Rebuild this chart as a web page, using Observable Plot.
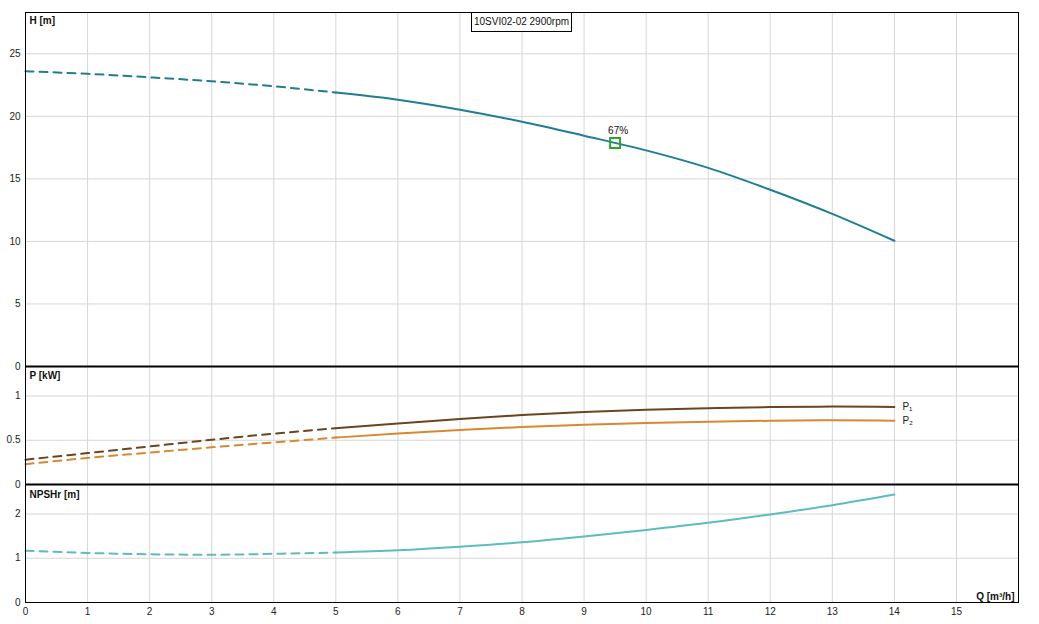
<!DOCTYPE html>
<html><head><meta charset="utf-8">
<script src="https://cdn.jsdelivr.net/npm/d3@7"></script>
<script src="https://cdn.jsdelivr.net/npm/@observablehq/plot@0.6"></script>
<style>
body{margin:0;background:#fff;font-family:"Liberation Sans",Arial,sans-serif;}
#wrap{position:relative;width:1039px;height:624px;}
#wrap svg{position:absolute;left:0;overflow:visible;background:transparent;}
#title{position:absolute;left:471px;top:12px;width:99px;height:18px;border:1px solid #000;background:#fff;font:10px "Liberation Sans",Arial,sans-serif;line-height:18px;text-align:center;color:#111;z-index:5;box-sizing:content-box;}
</style></head><body>
<div id="wrap"><div id="title">10SVI02-02 2900rpm</div></div>
<script>
// ---- data ----
const flow = [0,1,2,3,4,5,6,7,8,9,10,11,12,13,14];
const head = [23.6,23.4,23.12,22.8,22.4,21.9,21.33,20.53,19.57,18.45,17.28,15.88,14.13,12.2,10.05];
const powerP1 = [0.28,0.355,0.43,0.505,0.575,0.635,0.69,0.74,0.785,0.82,0.845,0.862,0.875,0.88,0.876];
const powerP2 = [0.23,0.30,0.36,0.42,0.475,0.53,0.575,0.615,0.65,0.675,0.695,0.71,0.72,0.725,0.72];
const npshr = [1.17,1.12,1.09,1.08,1.10,1.13,1.18,1.26,1.36,1.49,1.64,1.80,1.99,2.20,2.44];
const xTicks = [0,1,2,3,4,5,6,7,8,9,10,11,12,13,14,15];
const hTicks = [0,5,10,15,20,25];
const pTicks = [0,0.5,1];
const nTicks = [0,1,2];
const dutyPoint = {q: 9.5, h: 17.87, label: "67%"};
const splitQ = 5;

const rows = flow.map((q,i)=>({q, h: head[i], p1: powerP1[i], p2: powerP2[i], n: npshr[i]}));
const dashed = rows.filter(d=>d.q<=splitQ);
const solid = rows.filter(d=>d.q>=splitQ);

const W = 1039, ML = 25, MR = 21;
const font = "Liberation Sans, Arial, sans-serif";
const grid = "#d6d6d6";
const xs = {domain:[0,16], axis:null};
const gridX = Plot.ruleX(xTicks.filter(t=>t>0), {stroke:grid, strokeWidth:1});
const crv = "monotone-x";

function yAxis(ticks){
  return Plot.axisY(ticks, {tickSize:0, tickPadding:5, fontSize:10, fill:"#222", label:null, tickFormat: d=>String(d)});
}

const hColor = "#1d7e96", p1Color = "#6b4420", p2Color = "#da8830", nColor = "#5cbcc0";
const dash = "8,6";

const plotH = Plot.plot({
  width: W, height: 366, marginTop: 12, marginBottom: 0, marginLeft: ML, marginRight: MR,
  style: {fontFamily: font, overflow: "visible", background: "transparent"},
  x: xs, y: {domain:[0,28.3]},
  marks: [
    gridX,
    Plot.ruleY(hTicks.filter(t=>t>0), {stroke:grid}),
    yAxis(hTicks),
    Plot.line(dashed, {x:"q", y:"h", stroke:hColor, strokeWidth:2, strokeDasharray:dash, curve:crv}),
    Plot.line(solid, {x:"q", y:"h", stroke:hColor, strokeWidth:2, curve:crv}),
    Plot.dot([dutyPoint], {x:"q", y:"h", symbol:"square", r:5.6, stroke:"#2aa52a", strokeWidth:2, fill:"none"}),
    Plot.text([dutyPoint], {x:"q", y:"h", text:"label", dx:3, dy:-12, fontSize:10, fill:"#111"}),
    Plot.frame({stroke:"#000"}),
    Plot.ruleY([0], {stroke:"#000", strokeWidth:2}),
    Plot.text(["H [m]"], {frameAnchor:"top-left", dx:4, dy:4, fontWeight:"bold", fontSize:10, fill:"#111"})
  ]
});
plotH.style.top = "0px";

const plotP = Plot.plot({
  width: W, height: 118, marginTop: 0, marginBottom: 0, marginLeft: ML, marginRight: MR,
  style: {fontFamily: font, overflow: "visible", background: "transparent"},
  x: xs, y: {domain:[0,1.333]},
  marks: [
    gridX,
    Plot.ruleY(pTicks.filter(t=>t>0), {stroke:grid}),
    yAxis(pTicks),
    Plot.line(dashed, {x:"q", y:"p1", stroke:p1Color, strokeWidth:2, strokeDasharray:dash, curve:crv}),
    Plot.line(solid, {x:"q", y:"p1", stroke:p1Color, strokeWidth:2, curve:crv}),
    Plot.line(dashed, {x:"q", y:"p2", stroke:p2Color, strokeWidth:2, strokeDasharray:dash, curve:crv}),
    Plot.line(solid, {x:"q", y:"p2", stroke:p2Color, strokeWidth:2, curve:crv}),
    Plot.text([rows[rows.length-1]], {x:"q", y:"p1", text:()=>"P\u2081", dx:8, dy:0, textAnchor:"start", fontSize:10, fill:"#222"}),
    Plot.text([rows[rows.length-1]], {x:"q", y:"p2", text:()=>"P\u2082", dx:8, dy:0, textAnchor:"start", fontSize:10, fill:"#222"}),
    Plot.frame({stroke:"#000"}),
    Plot.ruleY([0], {stroke:"#000", strokeWidth:2}),
    Plot.text(["P [kW]"], {frameAnchor:"top-left", dx:4, dy:5, fontWeight:"bold", fontSize:10, fill:"#111"})
  ]
});
plotP.style.top = "366px";

const plotN = Plot.plot({
  width: W, height: 140, marginTop: 0, marginBottom: 22, marginLeft: ML, marginRight: MR,
  style: {fontFamily: font, overflow: "visible", background: "transparent"},
  x: {domain:[0,16]}, y: {domain:[0,2.667]},
  marks: [
    gridX,
    Plot.ruleY(nTicks.filter(t=>t>0), {stroke:grid}),
    yAxis(nTicks),
    Plot.axisX(xTicks, {tickSize:0, tickPadding:5, fontSize:10, fill:"#222", label:null}),
    Plot.line(dashed, {x:"q", y:"n", stroke:nColor, strokeWidth:2, strokeDasharray:dash, curve:crv}),
    Plot.line(solid, {x:"q", y:"n", stroke:nColor, strokeWidth:2, curve:crv}),
    Plot.frame({stroke:"#000"}),
    Plot.text(["NPSHr [m]"], {frameAnchor:"top-left", dx:4, dy:6, fontWeight:"bold", fontSize:10, fill:"#111"}),
    Plot.text(["Q [m\u00b3/h]"], {frameAnchor:"bottom-right", dx:-4, dy:-3, fontWeight:"bold", fontSize:10, fill:"#111"})
  ]
});
plotN.style.top = "484px";

const wrap = document.getElementById("wrap");
wrap.appendChild(plotN);
wrap.appendChild(plotP);
wrap.appendChild(plotH);
</script>
</body></html>
